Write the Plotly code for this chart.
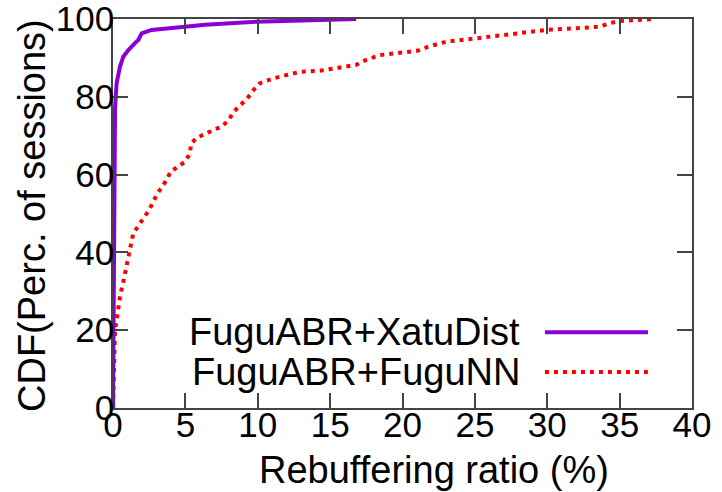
import plotly.graph_objects as go

# Data
xatu_x = [0, 0.02, 0.05, 0.08, 0.14, 0.25, 0.48, 0.71, 1.06, 1.52, 1.75, 1.98, 2.67, 4.97, 6.36, 9.9, 16.8]
xatu_y = [0, 20, 50, 70, 77, 83.5, 87.7, 90.3, 92, 93.8, 94.6, 96.3, 97.2, 98, 98.5, 99.3, 100]

fugunn_x = [0, 0.05, 0.14, 0.32, 0.5, 0.76, 1.0, 1.1, 1.4, 1.75, 2.14, 2.44, 2.79, 3.01, 3.36,
            3.7, 4.0, 4.5, 5.02, 5.32, 5.39, 5.78, 6.36, 6.93, 7.5, 7.97, 8.3, 8.7, 9.2, 9.7,
            10.15, 11.07, 12.0, 12.9, 14.3, 16.1, 16.8, 17.5, 18.4, 19.8, 21.1, 21.8, 23.05,
            25.0, 27.65, 29.96, 33.6, 34.3, 35.0, 37.4]
fugunn_y = [0, 8, 20, 24.4, 29, 33.3, 37.9, 40.2, 44.9, 46.8, 48.8, 50.6, 53.0, 54.8, 56.7,
            58.6, 60.9, 62.0, 63.5, 65.5, 67.9, 69.5, 70.4, 71.5, 72.3, 73.9, 75.9, 77.6, 79.2, 81.7,
            83.5, 84.7, 85.6, 86.4, 86.7, 87.7, 88.2, 89.5, 90.7, 91.3, 91.9, 92.9, 94.2,
            95.0, 96.3, 97.2, 98.0, 98.9, 99.5, 100]

series_names = ["FuguABR+XatuDist", "FuguABR+FuguNN"]
x_ticks = [0, 5, 10, 15, 20, 25, 30, 35, 40]
y_ticks = [0, 20, 40, 60, 80, 100]

PURPLE = "#8a00d4"
RED = "#ff0000"
RED_DASH = "4px,5px"
FONT = "Liberation Sans, Arial, sans-serif"

fig = go.Figure()
fig.add_trace(go.Scatter(x=fugunn_x, y=fugunn_y, mode="lines", name=series_names[1],
                         line=dict(color=RED, width=4, dash=RED_DASH), showlegend=False))
fig.add_trace(go.Scatter(x=xatu_x, y=xatu_y, mode="lines", name=series_names[0],
                         line=dict(color=PURPLE, width=4), showlegend=False))

axis_common = dict(showgrid=False, zeroline=False, showline=True, linecolor="#444444",
                   linewidth=1.5, mirror="allticks", ticks="inside", ticklen=15,
                   tickwidth=1.5, tickcolor="#444444", ticklabeloverflow="allow",
                   automargin=False,
                   tickfont=dict(family=FONT, size=35, color="black"))

fig.update_xaxes(range=[0, 40], tickvals=x_ticks, ticktext=[str(v) for v in x_ticks],
                 ticklabelstandoff=-15, **axis_common)
fig.update_yaxes(range=[0, 100], tickvals=y_ticks, ticktext=[str(v) for v in y_ticks],
                 ticklabelstandoff=-10, **axis_common)

# Axis titles
fig.add_annotation(text="Rebuffering ratio (%)", xref="paper", yref="paper", x=0.554, y=-0.16,
                   showarrow=False, font=dict(family=FONT, size=38, color="black"),
                   xanchor="center", yanchor="middle")
fig.add_annotation(text="CDF(Perc. of sessions)", xref="paper", yref="paper", x=-0.14, y=0.496,
                   showarrow=False, textangle=-90, font=dict(family=FONT, size=38, color="black"),
                   xanchor="center", yanchor="middle")

# Manual legend (text on the left, sample line on the right)
legend_rows = [(series_names[0], 0.195, dict(color=PURPLE, width=4)),
               (series_names[1], 0.0925, dict(color=RED, width=4, dash=RED_DASH))]
for name, ypos, ln in legend_rows:
    fig.add_annotation(text=name, xref="paper", yref="paper", x=0.7064, y=ypos,
                       showarrow=False, xanchor="right", yanchor="middle",
                       font=dict(family=FONT, size=38, color="black"))
    fig.add_shape(type="line", xref="paper", yref="paper", x0=0.746, x1=0.924, y0=ypos, y1=ypos,
                  line=ln)

fig.update_layout(width=722, height=492, margin=dict(l=113, r=30, t=19, b=84, autoexpand=False),
                  plot_bgcolor="white", paper_bgcolor="white",
                  font=dict(family=FONT, color="black"))

fig.write_html("out.html")
